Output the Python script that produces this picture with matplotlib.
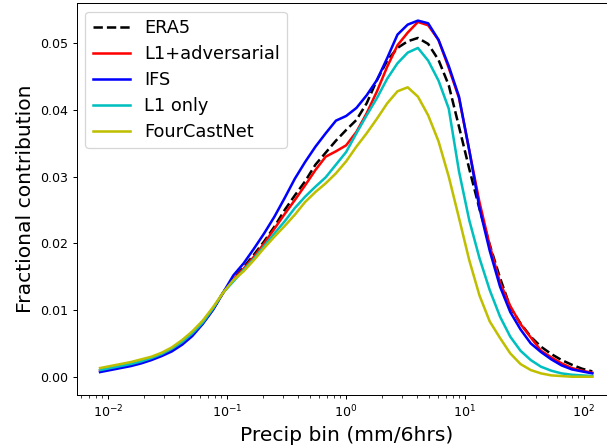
import numpy as np
import matplotlib.pyplot as plt

# precip bin centres (mm/6hrs)
bins = [0.00863, 0.01052, 0.01283, 0.01564, 0.0191, 0.0233, 0.0284, 0.0346,
        0.0422, 0.0514, 0.0628, 0.0766, 0.0933, 0.1138, 0.1387, 0.1694,
        0.2065, 0.2518, 0.307, 0.374, 0.456, 0.557, 0.679, 0.828,
        1.009, 1.230, 1.500, 1.832, 2.234, 2.723, 3.319, 4.046,
        4.932, 6.026, 7.345, 8.954, 10.91, 13.30, 16.22, 19.82,
        24.15, 29.44, 35.89, 43.75, 53.46, 65.16, 79.43, 96.83, 118.0]

era5 = [0.0009, 0.0012, 0.0015, 0.0018, 0.0022, 0.0027, 0.0033, 0.0041,
        0.0051, 0.0064, 0.0080, 0.0101, 0.0126, 0.0147, 0.0164, 0.0183,
        0.0203, 0.0225, 0.0250, 0.0272, 0.0293, 0.0318, 0.0336, 0.0354,
        0.0370, 0.0385, 0.0410, 0.0445, 0.0474, 0.0493, 0.0503, 0.0508,
        0.0499, 0.0475, 0.0437, 0.0375, 0.0312, 0.0252, 0.0198, 0.0148,
        0.0104, 0.0080, 0.0060, 0.0045, 0.0034, 0.0025, 0.0018, 0.0012, 0.0008]

l1_adv = [0.0009, 0.0012, 0.0015, 0.0018, 0.0022, 0.0027, 0.0033, 0.0041,
          0.0051, 0.0064, 0.0080, 0.0101, 0.0126, 0.0146, 0.0162, 0.0180,
          0.0200, 0.0222, 0.0244, 0.0265, 0.0287, 0.0310, 0.0330, 0.0338,
          0.0347, 0.0367, 0.0395, 0.0428, 0.0465, 0.0497, 0.0516, 0.0532,
          0.0527, 0.0505, 0.0463, 0.0418, 0.0340, 0.0262, 0.0197, 0.0141,
          0.0106, 0.0079, 0.0059, 0.0039, 0.0029, 0.0020, 0.0013, 0.0009, 0.0006]

ifs = [0.0007, 0.0010, 0.0013, 0.0016, 0.0020, 0.0025, 0.0031, 0.0038,
       0.0048, 0.0061, 0.0079, 0.0100, 0.0126, 0.0152, 0.0170, 0.0192,
       0.0215, 0.0240, 0.0268, 0.0297, 0.0322, 0.0345, 0.0365, 0.0384,
       0.0391, 0.0403, 0.0422, 0.0445, 0.0478, 0.0513, 0.0528, 0.0534,
       0.0530, 0.0505, 0.0466, 0.0420, 0.0340, 0.0253, 0.0189, 0.0135,
       0.0097, 0.0071, 0.0050, 0.0037, 0.0026, 0.0017, 0.0011, 0.0008, 0.0005]

l1_only = [0.0010, 0.0013, 0.0016, 0.0019, 0.0023, 0.0028, 0.0034, 0.0042,
           0.0052, 0.0065, 0.0081, 0.0102, 0.0126, 0.0143, 0.0160, 0.0177,
           0.0196, 0.0215, 0.0233, 0.0253, 0.0270, 0.0285, 0.0299, 0.0318,
           0.0337, 0.0365, 0.0392, 0.0418, 0.0447, 0.0470, 0.0486, 0.0493,
           0.0474, 0.0444, 0.0402, 0.0308, 0.0235, 0.0178, 0.0130, 0.0090,
           0.0060, 0.0039, 0.0025, 0.0015, 0.0009, 0.0005, 0.0003, 0.0002, 0.0001]

fourcastnet = [0.0013, 0.0016, 0.0019, 0.0022, 0.0026, 0.0030, 0.0036, 0.0044,
               0.0055, 0.0068, 0.0084, 0.0104, 0.0126, 0.0145, 0.0158, 0.0175,
               0.0193, 0.0210, 0.0226, 0.0243, 0.0262, 0.0277, 0.0290, 0.0305,
               0.0323, 0.0345, 0.0365, 0.0387, 0.0410, 0.0428, 0.0434, 0.0420,
               0.0392, 0.0353, 0.0300, 0.0238, 0.0175, 0.0122, 0.0083, 0.0058,
               0.0035, 0.0019, 0.0010, 0.0005, 0.0002, 0.0001, 0.0000, 0.0000, 0.0000]

fig = plt.figure(figsize=(607 / 91, 448 / 91), dpi=91)
# axes run past the right edge, as in the (cropped) original
ax = fig.add_axes([0.1262, 0.1183, 0.8903, 0.875])

ax.plot(bins, era5, 'k--', lw=2, label='ERA5')
ax.plot(bins, l1_adv, 'r', lw=2, label='L1+adversarial')
ax.plot(bins, ifs, 'b', lw=2, label='IFS')
ax.plot(bins, l1_only, 'c', lw=2, label='L1 only')
ax.plot(bins, fourcastnet, 'y', lw=2, label='FourCastNet')

ax.set_xscale('log')
ax.set_xlim(0.00548, 190.5)
ax.set_ylim(-0.00274, 0.05604)
ax.tick_params(labelsize=10)
ax.set_xlabel('Precip bin (mm/6hrs)', fontsize=16)
ax.set_ylabel('Fractional contribution', fontsize=16)
ax.legend(loc='upper left', fontsize=14, labelspacing=0.45, handlelength=2.1)

plt.savefig('out.png', dpi=91)
